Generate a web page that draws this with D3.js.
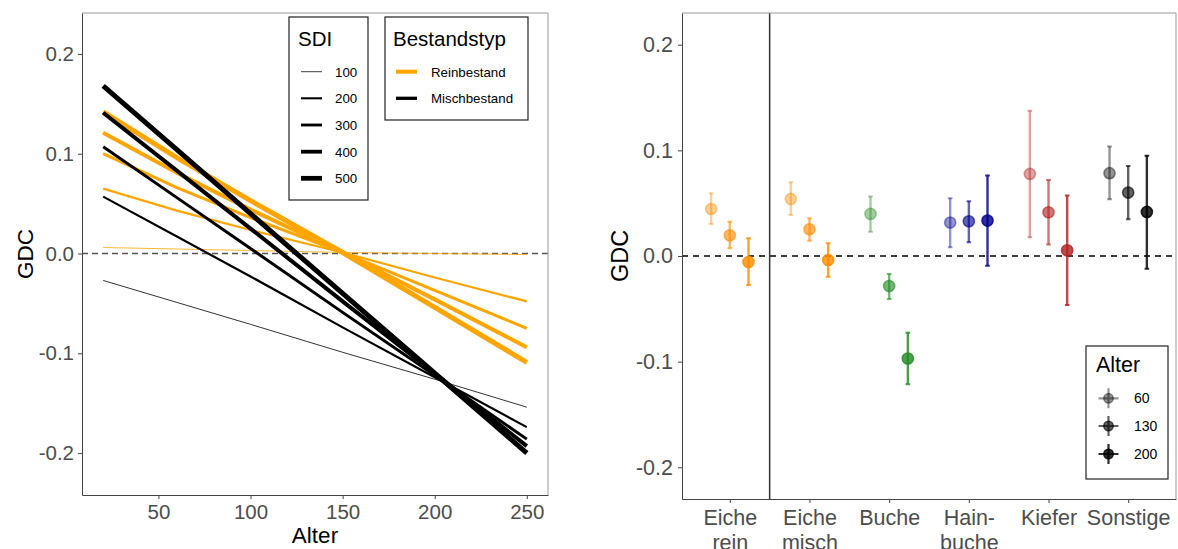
<!DOCTYPE html>
<html>
<head>
<meta charset="utf-8">
<script src="https://cdn.jsdelivr.net/npm/d3@7"></script>
<style>
  body { margin: 0; background: #fff; }
  svg { display: block; font-family: "Liberation Sans", Arial, sans-serif; }
</style>
</head>
<body>
<div id="graph"></div>
<script>
const width = 1178;
const height = 549;

// left panel data: GDC over Alter, by SDI and Bestandstyp
const ages = [20, 60, 100, 150, 200, 250];
const sdiLevels = [100, 200, 300, 400, 500];
const reinValues = [
  [0.006, 0.0045, 0.003, 0.001, 0.0, -0.001],
  [0.065, 0.043, 0.0235, 0.001, -0.024, -0.048],
  [0.100, 0.066, 0.036, 0.001, -0.037, -0.075],
  [0.121, 0.081, 0.044, 0.001, -0.046, -0.094],
  [0.142, 0.096, 0.053, 0.001, -0.054, -0.109]
];
const mischValues = [
  [-0.027, -0.049, -0.071, -0.099, -0.126, -0.154],
  [0.057, 0.017, -0.023, -0.074, -0.124, -0.174],
  [0.107, 0.056, 0.005, -0.059, -0.122, -0.186],
  [0.141, 0.083, 0.025, -0.048, -0.120, -0.193],
  [0.168, 0.104, 0.040, -0.040, -0.120, -0.200]
];
const bestandstyp = ["Reinbestand", "Mischbestand"];

// right panel data: GDC by Baumart and Alter
const species = ["Eiche rein", "Eiche misch", "Buche", "Hainbuche", "Kiefer", "Sonstige"];
const speciesLabels = [["Eiche", "rein"], ["Eiche", "misch"], ["Buche"], ["Hain-", "buche"], ["Kiefer"], ["Sonstige"]];
const alterLevels = [60, 130, 200];
const gdcEst = [
  [0.0445, 0.0196, -0.0057],
  [0.054, 0.0253, -0.0038],
  [0.0398, -0.0284, -0.097],
  [0.0316, 0.0329, 0.0335],
  [0.0777, 0.0414, 0.0054],
  [0.0784, 0.060, 0.0417]
];
const gdcLow = [
  [0.0303, 0.0073, -0.0275],
  [0.0389, 0.0145, -0.0196],
  [0.023, -0.0408, -0.1213],
  [0.0082, 0.013, -0.0092],
  [0.0177, 0.011, -0.0464],
  [0.0537, 0.0348, -0.012]
];
const gdcHigh = [
  [0.0594, 0.0325, 0.0168],
  [0.0698, 0.0357, 0.012],
  [0.0562, -0.017, -0.0727],
  [0.0547, 0.0518, 0.0761],
  [0.1374, 0.072, 0.0572],
  [0.1036, 0.0853, 0.095]
];

const svg = d3.select("#graph").append("svg")
  .attr("width", width)
  .attr("height", height);

// ---------------- left panel ----------------
const L = {left: 82, right: 548, top: 13, bottom: 495};

const xL = d3.scaleLinear().domain([8.5, 261.5]).range([L.left, L.right]);
const yL = d3.scaleLinear().domain([-0.242, 0.241]).range([L.bottom, L.top]);
const sizeScale = d3.scaleOrdinal().domain(sdiLevels).range([0.8, 2.2, 3, 4, 5]);
const typColor = d3.scaleOrdinal().domain(bestandstyp).range(["#FFA500", "#000000"]);

const left = svg.append("g");

left.append("line")
  .attr("x1", L.left).attr("x2", L.right)
  .attr("y1", yL(0)).attr("y2", yL(0))
  .attr("stroke", "#555").attr("stroke-width", 1.3)
  .attr("stroke-dasharray", "6,4");

const line = d3.line()
  .x((d, i) => xL(ages[i]))
  .y(d => yL(d));

const leftSeries = [];
bestandstyp.forEach((typ, t) => {
  const vals = t === 0 ? reinValues : mischValues;
  sdiLevels.forEach((sdi, k) => leftSeries.push({typ, sdi, values: vals[k]}));
});

left.selectAll("path.trend")
  .data(leftSeries)
  .enter()
  .append("path")
  .attr("class", "trend")
  .attr("d", d => line(d.values))
  .attr("fill", "none")
  .attr("stroke", d => typColor(d.typ))
  .attr("stroke-width", d => sizeScale(d.sdi));

// border
left.append("path")
  .attr("d", `M${L.left},${L.top}H${L.right}V${L.bottom}`)
  .attr("fill", "none").attr("stroke", "#999").attr("stroke-width", 1);

const xAxisL = left.append("g")
  .attr("transform", `translate(0, ${L.bottom})`)
  .call(d3.axisBottom(xL).tickValues([50, 100, 150, 200, 250]).tickSize(4).tickSizeOuter(0).tickPadding(5));
const yAxisL = left.append("g")
  .attr("transform", `translate(${L.left}, 0)`)
  .call(d3.axisLeft(yL).tickValues([-0.2, -0.1, 0, 0.1, 0.2]).tickFormat(d3.format(".1f")).tickSize(4).tickSizeOuter(0).tickPadding(4));

[xAxisL, yAxisL].forEach(a => {
  a.select(".domain").attr("stroke", "#444");
  a.selectAll(".tick line").attr("stroke", "#444");
  a.selectAll(".tick text")
    .attr("fill", "#4d4d4d")
    .style("font-size", "20.5px")
    .style("font-family", "'Liberation Sans', Arial, sans-serif");
});
yAxisL.selectAll(".tick text").text(d => d3.format(".1f")(d).replace("−", "-"));

left.append("text")
  .attr("x", (L.left + L.right) / 2)
  .attr("y", 543)
  .attr("text-anchor", "middle")
  .style("font-size", "22.5px")
  .text("Alter");

left.append("text")
  .attr("transform", "rotate(-90)")
  .attr("x", -(L.top + L.bottom) / 2)
  .attr("y", 33)
  .attr("text-anchor", "middle")
  .style("font-size", "22.5px")
  .text("GDC");

// SDI legend
const keyY = [71.7, 98.3, 125, 151.7, 178.3];
const sdiLeg = left.append("g");
sdiLeg.append("rect")
  .attr("x", 289).attr("y", 17).attr("width", 79).attr("height", 183)
  .attr("fill", "#fff").attr("stroke", "#222").attr("stroke-width", 1.2);
sdiLeg.append("text")
  .attr("x", 298).attr("y", 46)
  .style("font-size", "20.5px")
  .text("SDI");
sdiLeg.selectAll("line")
  .data(sdiLevels)
  .enter()
  .append("line")
  .attr("x1", 301).attr("x2", 322)
  .attr("y1", (d, i) => keyY[i]).attr("y2", (d, i) => keyY[i])
  .attr("stroke", "#000")
  .attr("stroke-width", d => sizeScale(d) * 0.95);
sdiLeg.selectAll("text.lab")
  .data(sdiLevels)
  .enter()
  .append("text")
  .attr("class", "lab")
  .attr("x", 335)
  .attr("y", (d, i) => keyY[i] + 4.8)
  .style("font-size", "13.3px")
  .text(d => d);

// Bestandstyp legend
const typLeg = left.append("g");
typLeg.append("rect")
  .attr("x", 385).attr("y", 17).attr("width", 143).attr("height", 103)
  .attr("fill", "#fff").attr("stroke", "#222").attr("stroke-width", 1.2);
typLeg.append("text")
  .attr("x", 393).attr("y", 46)
  .style("font-size", "20.5px")
  .text("Bestandstyp");
typLeg.selectAll("line")
  .data(bestandstyp)
  .enter()
  .append("line")
  .attr("x1", 396).attr("x2", 417)
  .attr("y1", (d, i) => keyY[i]).attr("y2", (d, i) => keyY[i])
  .attr("stroke", d => typColor(d))
  .attr("stroke-width", (d, i) => i === 0 ? 4 : 3.3);
typLeg.selectAll("text.lab")
  .data(bestandstyp)
  .enter()
  .append("text")
  .attr("class", "lab")
  .attr("x", 431)
  .attr("y", (d, i) => keyY[i] + 4.8)
  .style("font-size", "13.3px")
  .text(d => d);

// ---------------- right panel ----------------
const R = {left: 682, right: 1176, top: 13, bottom: 499};

const xR = d3.scalePoint().domain(species).range([R.left, R.right]).padding(0.6);
const yR = d3.scaleLinear().domain([-0.23, 0.23]).range([R.bottom, R.top]);
const dodge = d3.scaleBand().domain(alterLevels).range([-28, 28]);
const spColor = d3.scaleOrdinal().domain(species)
  .range(["#FF8C00", "#FF8C00", "#228B22", "#00008B", "#B22222", "#000000"]);
const alpha = d3.scaleOrdinal().domain(alterLevels).range([0.42, 0.62, 0.82]);

const right = svg.append("g");

right.append("line")
  .attr("x1", R.left).attr("x2", R.right)
  .attr("y1", yR(0)).attr("y2", yR(0))
  .attr("stroke", "#000").attr("stroke-width", 1.5)
  .attr("stroke-dasharray", "6,5");

const sepX = (xR(species[0]) + xR(species[1])) / 2;
right.append("line")
  .attr("x1", sepX).attr("x2", sepX)
  .attr("y1", R.top).attr("y2", R.bottom)
  .attr("stroke", "#333").attr("stroke-width", 1.5);

const pts = [];
species.forEach((sp, i) => {
  alterLevels.forEach((a, j) => {
    pts.push({sp, a, est: gdcEst[i][j], lo: gdcLow[i][j], hi: gdcHigh[i][j]});
  });
});

const px = d => xR(d.sp) + dodge(d.a) + dodge.bandwidth() / 2;

const pg = right.selectAll("g.pt")
  .data(pts)
  .enter()
  .append("g")
  .attr("class", "pt")
  .attr("stroke", d => spColor(d.sp))
  .attr("fill", d => spColor(d.sp));

pg.append("line")
  .attr("x1", px).attr("x2", px)
  .attr("y1", d => yR(d.lo)).attr("y2", d => yR(d.hi))
  .attr("stroke-width", 2.4)
  .attr("stroke-opacity", d => alpha(d.a));
pg.append("path")
  .attr("d", d => `M${px(d) - 2.3},${yR(d.lo)}H${px(d) + 2.3}M${px(d) - 2.3},${yR(d.hi)}H${px(d) + 2.3}`)
  .attr("stroke-width", 2)
  .attr("stroke-opacity", d => alpha(d.a));
pg.append("circle")
  .attr("cx", px).attr("cy", d => yR(d.est))
  .attr("r", 5.6)
  .attr("stroke-width", 1.5)
  .attr("fill-opacity", d => alpha(d.a))
  .attr("stroke-opacity", d => alpha(d.a));

right.append("path")
  .attr("d", `M${R.left},${R.top}H${R.right}V${R.bottom}`)
  .attr("fill", "none").attr("stroke", "#999").attr("stroke-width", 1);

const xAxisR = right.append("g")
  .attr("transform", `translate(0, ${R.bottom})`)
  .call(d3.axisBottom(xR).tickSize(4).tickSizeOuter(0).tickPadding(6).tickFormat(""));
const yAxisR = right.append("g")
  .attr("transform", `translate(${R.left}, 0)`)
  .call(d3.axisLeft(yR).tickValues([-0.2, -0.1, 0, 0.1, 0.2]).tickSize(4).tickSizeOuter(0).tickPadding(5));

[xAxisR, yAxisR].forEach(a => {
  a.select(".domain").attr("stroke", "#444");
  a.selectAll(".tick line").attr("stroke", "#444");
  a.selectAll(".tick text")
    .attr("fill", "#4d4d4d")
    .style("font-size", "21.5px")
    .style("font-family", "'Liberation Sans', Arial, sans-serif");
});
yAxisR.selectAll(".tick text").text(d => d3.format(".1f")(d).replace("−", "-"));

xAxisR.selectAll(".tick text")
  .attr("dy", null)
  .attr("y", 26)
  .text("")
  .each(function(d, i) {
    const t = d3.select(this);
    speciesLabels[i].forEach((s, k) => {
      t.append("tspan").attr("x", 0).attr("y", 26 + k * 24.5).text(s);
    });
  });

right.append("text")
  .attr("transform", "rotate(-90)")
  .attr("x", -(R.top + R.bottom) / 2)
  .attr("y", 628)
  .attr("text-anchor", "middle")
  .style("font-size", "23.5px")
  .text("GDC");

// Alter legend
const altLeg = right.append("g");
altLeg.append("rect")
  .attr("x", 1086).attr("y", 346).attr("width", 82).attr("height", 133)
  .attr("fill", "#fff").attr("stroke", "#222").attr("stroke-width", 1.2);
altLeg.append("text")
  .attr("x", 1096).attr("y", 372)
  .style("font-size", "21.5px")
  .text("Alter");
const altY = [398.3, 426, 454];
const ak = altLeg.selectAll("g.key")
  .data(alterLevels)
  .enter()
  .append("g")
  .attr("class", "key")
  .attr("transform", (d, i) => `translate(1108.5, ${altY[i]})`)
  .attr("stroke", "#000").attr("fill", "#000");
ak.append("path")
  .attr("d", "M-10,0H10M0,-10V10")
  .attr("stroke-width", 2.2)
  .attr("stroke-opacity", d => alpha(d));
ak.append("circle")
  .attr("r", 4.8)
  .attr("stroke-width", 1.4)
  .attr("fill-opacity", d => alpha(d))
  .attr("stroke-opacity", d => alpha(d));
altLeg.selectAll("text.lab")
  .data(alterLevels)
  .enter()
  .append("text")
  .attr("class", "lab")
  .attr("x", 1134)
  .attr("y", (d, i) => altY[i] + 5)
  .style("font-size", "14px")
  .text(d => d);
</script>
</body>
</html>
